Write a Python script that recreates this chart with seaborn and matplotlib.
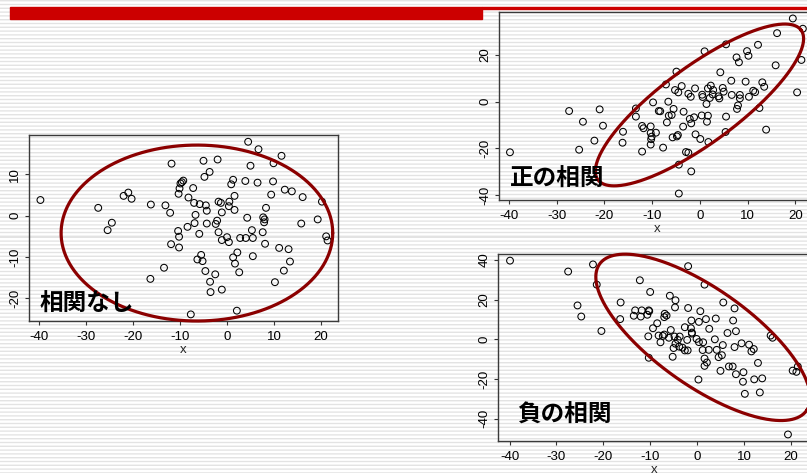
import numpy as np
import matplotlib
matplotlib.use("Agg")
import matplotlib.pyplot as plt
from matplotlib.patches import Rectangle
import seaborn as sns

W, H = 807, 473

# ---- no correlation ----
none_x = [-39.7, -27.4, -25.4, -24.5, -22.0, -21.0, -20.3, -16.2, -16.3, -13.4,
          -13.1, -12.1, -11.9, -11.8, -10.4, -10.2, -10.2, -10.3, -10.1, -9.9,
          -9.6, -9.3, -8.4, -8.2, -7.7, -7.2, -7.0, -6.9, -6.7, -6.3,
          -5.9, -5.8, -5.5, -5.2, -5.0, -4.8, -4.6, -4.5, -4.3, -4.3,
          -3.7, -3.6, -3.5, -2.5, -2.4, -2.1, -2.0, -1.8, -1.8, -1.3,
          -1.1, -1.1, -1.1, 0.0, 0.4, 0.4, 0.5, 0.9, 1.3, 1.3,
          1.6, 1.6, 1.7, 2.1, 2.2, 2.6, 2.8, 3.9, 4.0, 4.3,
          4.5, 5.0, 5.3, 5.5, 5.5, 6.5, 6.7, 7.6, 7.7, 8.0,
          8.1, 8.3, 7.9, 9.4, 9.8, 9.9, 10.2, 11.1, 11.6, 12.1,
          12.3, 13.1, 13.4, 13.8, 15.8, 16.1, 19.3, 20.2, 21.1, 21.4]
none_y = [3.8, 1.9, -3.5, -1.7, 4.8, 5.6, 4.1, 2.7, -15.3, -12.6,
          2.5, 0.7, -6.9, 12.6, -3.7, -5.1, -7.7, 5.3, 6.6, 7.8,
          8.1, 8.5, -2.7, 4.4, -23.9, 6.7, 3.1, -1.8, 0.2, -10.6,
          -4.4, 2.8, -9.5, -11.0, 13.3, 9.4, -13.4, 2.5, 1.2, -1.9,
          10.6, -16.0, -18.5, -14.2, -2.0, -1.2, 13.6, -4.0, 3.4, 3.1,
          0.8, -5.9, -17.9, -5.2, -6.4, 2.3, 3.4, 7.6, 8.7, -10.1,
          1.4, 4.8, -11.6, -23.0, -8.9, -13.7, -5.4, 8.4, -5.4, -0.5,
          17.9, 12.1, -3.5, -5.4, -9.8, 8.0, 16.1, -4.0, -0.4, -0.9,
          -6.8, 1.9, -1.6, 5.1, 8.3, 12.7, -16.1, -7.8, 14.5, -13.3,
          6.3, -8.1, -11.1, 5.9, -1.9, 4.5, -0.9, 3.4, -5.0, -6.0]

# ---- positive correlation ----
pos_x = [-39.8, -27.4, -25.3, -24.5, -22.1, -21.0, -20.3, -16.1, -16.2, -13.4,
         -13.4, -12.1, -11.8, -12.1, -10.3, -10.3, -10.1, -10.2, -10.3, -9.8,
         -9.2, -8.6, -8.3, -7.7, -7.1, -6.9, -6.6, -6.5, -5.9, -5.7,
         -5.5, -5.2, -4.9, -4.8, -4.6, -4.5, -4.4, -4.4, -3.8, -3.5,
         -3.4, -2.9, -2.4, -2.4, -2.1, -1.9, -1.8, -1.8, -1.2, -1.0,
         -0.9, 0.1, 0.4, 0.5, 0.6, 1.0, 1.4, 1.5, 1.7, 1.7,
         1.8, 2.1, 2.3, 2.8, 2.7, 3.9, 4.3, 4.1, 4.8, 5.0,
         5.5, 5.5, 5.4, 6.7, 6.6, 7.7, 7.8, 8.0, 8.2, 8.4,
         8.4, 9.6, 9.9, 10.2, 10.3, 11.2, 11.6, 12.2, 12.5, 13.1,
         13.5, 13.9, 15.9, 16.2, 19.5, 20.4, 21.3, 21.6]
pos_y = [-21.7, -4.0, -20.6, -8.6, -16.7, -3.3, -10.3, -12.9, -17.6, -2.9,
         -6.4, -10.4, -11.4, -21.4, -10.6, -13.4, -15.0, -16.1, -18.4, -0.3,
         -13.3, -4.0, -4.1, -19.7, 7.4, -8.9, 0.0, -6.0, -5.7, -15.3,
         -3.1, 5.0, 12.9, -14.9, -14.3, 4.0, -27.0, -39.4, 6.7, -10.7,
         -4.3, -21.6, -21.9, 3.4, -7.4, 2.1, -9.3, -29.9, -6.7, 5.7,
         -14.0, -16.0, -5.9, 3.0, 2.0, 21.6, -1.0, -8.6, 5.7, -6.0,
         -17.3, 1.6, 6.9, 5.0, 3.1, 2.3, 12.6, 1.4, 5.9, 4.3,
         24.6, -6.4, -13.0, 2.9, 9.0, 19.0, -3.1, -1.6, 16.9, 2.9,
         1.4, 8.6, 21.7, 19.7, 2.1, 4.7, 4.1, 24.4, -2.7, 8.3,
         6.4, -12.0, 15.6, 29.4, 35.7, 4.0, 17.9, 31.3]

# ---- negative correlation ----
neg_x = [-39.9, -27.5, -22.2, -21.4, -25.5, -24.7, -20.4, -16.3, -16.4, -13.5,
         -13.2, -12.2, -12.0, -11.8, -10.6, -10.3, -10.2, -10.4, -10.3, -10.0,
         -9.4, -8.5, -8.2, -7.8, -7.3, -7.0, -6.9, -6.5, -7.0, -6.0,
         -5.8, -5.6, -5.2, -5.0, -4.8, -4.7, -4.6, -4.6, -4.1, -3.8,
         -3.7, -3.1, -2.6, -2.6, -2.1, -2.0, -1.9, -1.9, -1.3, -1.2,
         -1.1, -1.1, -0.1, 0.3, 0.4, 0.4, 0.7, 1.3, 1.2, 1.6,
         1.6, 1.9, 1.6, 2.1, 2.5, 2.6, 3.8, 4.0, 4.2, 4.6,
         5.0, 5.3, 5.5, 5.6, 6.5, 6.8, 7.6, 7.7, 8.0, 8.0,
         8.3, 8.3, 9.5, 9.9, 9.8, 10.2, 11.1, 11.6, 12.1, 12.2,
         13.0, 13.4, 13.9, 15.7, 16.1, 19.4, 20.4, 21.2, 21.5]
neg_y = [39.7, 34.2, 37.8, 27.6, 17.1, 11.5, 4.2, 18.6, 10.2, 11.9,
         14.6, 29.8, 11.5, 14.6, 12.4, 14.6, 14.2, 1.5, -9.3, 23.9,
         5.6, 8.1, 1.9, -1.5, 1.7, 11.2, 12.9, 12.0, 2.4, 0.8,
         22.0, 4.7, -8.8, -4.4, 1.4, 16.1, 19.7, -2.2, -0.3, -3.7,
         1.4, -4.2, 6.1, -5.6, -0.3, -5.6, 36.9, 15.8, 5.6, 9.5,
         3.4, 2.9, 0.2, -20.3, -1.4, 8.8, 14.2, -1.5, -5.4, 27.6,
         -9.7, 10.2, -13.4, -11.7, -5.3, 5.3, 0.0, 10.5, -5.3, -9.0,
         -15.9, -8.0, -2.9, 18.6, 3.2, -13.7, -13.7, 9.5, 15.6, -3.9,
         4.1, -17.6, -2.0, -16.6, -21.4, -27.5, -2.7, -6.1, -4.9, -20.2,
         -11.9, -26.8, -19.7, 1.9, 0.8, -48.0, -15.8, -16.4, -13.7]

x_ticks = [-40, -30, -20, -10, 0, 10, 20]
none_yticks = [-20, -10, 0, 10]
pos_yticks = [-40, -20, 0, 20]
neg_yticks = [-40, -20, 0, 20, 40]

labels = ["相関なし", "正の相関", "負の相関"]

sns.set_theme(style="ticks")
plt.rcParams["font.family"] = ["Liberation Sans", "DejaVu Sans"]

fig = plt.figure(figsize=(W / 100, H / 100), dpi=100)
fig.patch.set_facecolor("white")

# striped slide background
rows = np.arange(H)
sub = (rows[:, None] + (np.arange(10)[None, :] + 0.5) / 10.0)
coverage = (((sub - 1.0) % 3.8) < 1.4).mean(axis=1)
stripes = 1.0 - 0.11 * coverage
bg = fig.add_axes([0, 0, 1, 1], zorder=-10)
bg.imshow(stripes[:, None], cmap="gray", vmin=0, vmax=1, aspect="auto",
          interpolation="nearest", extent=(0, W, H, 0))
bg.set_axis_off()

# title bar
fig.patches.append(Rectangle((10 / W, 1 - 19 / H), 472 / W, 12.3 / H,
                             transform=fig.transFigure, color="#cc0000", zorder=1))
fig.patches.append(Rectangle((482 / W, 1 - 8.7 / H), (W - 482) / W, 2.0 / H,
                             transform=fig.transFigure, color="#cc0000", zorder=1))


def px_axes(x0, y0, x1, y1):
    return fig.add_axes([x0 / W, 1 - y1 / H, (x1 - x0) / W, (y1 - y0) / H])


def panel(box, xs, ys, xlim, ylim, yticks, ell):
    ax = px_axes(*box)
    ax.set_facecolor("none")
    sns.scatterplot(x=xs, y=ys, ax=ax, marker="o", s=24, facecolor="none",
                    edgecolor="black", linewidth=0.75, zorder=2)
    ax.set_xlim(*xlim)
    ax.set_ylim(*ylim)
    ax.set_xticks(x_ticks)
    ax.set_yticks(yticks)
    ax.set_xticklabels([str(t) for t in x_ticks])
    ax.set_yticklabels([str(t) for t in yticks])
    ax.tick_params(direction="out", length=2.6, width=0.8, color="#333333",
                   labelsize=9.5, labelcolor="black", bottom=True, left=True)
    ax.tick_params(axis="x", pad=4.5)
    ax.tick_params(axis="y", pad=3.0, labelrotation=90)
    for lab in ax.get_yticklabels():
        lab.set_va("center")
    for sp in ax.spines.values():
        sp.set_visible(True)
        sp.set_color("#3a3a3a")
        sp.set_linewidth(1.0)
    ax.set_xlabel("x", fontsize=9.5, labelpad=0.5)
    ax.set_ylabel("")
    # outline ellipse
    (cx, cy), (ux, uy), (vx, vy) = ell
    t = np.linspace(0, 2 * np.pi, 400)
    ax.plot(cx + ux * np.cos(t) + vx * np.sin(t),
            cy + uy * np.cos(t) + vy * np.sin(t),
            color="#8b0000", lw=2.3, clip_on=False, zorder=3)
    return ax


panel((29, 135, 338, 321), none_x, none_y, (-42.13, 23.62), (-25.5, 19.54),
      none_yticks, ((-6.4, -4.2), (28.9, 0.0), (0.0, 21.3)))
panel((499, 11.7, 815, 200.3), pos_x, pos_y, (-42.1, 24.15), (-42.3, 38.6),
      pos_yticks, ((-0.07, -1.4), (21.3, 32.1), (4.78, -13.2)))
panel((498.3, 254.3, 810, 441), neg_x, neg_y, (-42.4, 24.1), (-51.3, 42.9),
      neg_yticks, ((1.28, 1.0), (22.1, -36.9), (-5.9, -20.0)))

# panel captions
for (px, py), txt in zip([(40, 303.5), (510, 179), (517, 415)], labels):
    fig.text(px / W, 1 - py / H, txt, fontsize=17, fontweight="bold",
             family=["Noto Sans CJK JP", "DejaVu Sans"], color="black",
             ha="left", va="center", zorder=5)

fig.savefig("out.png", dpi=100)
